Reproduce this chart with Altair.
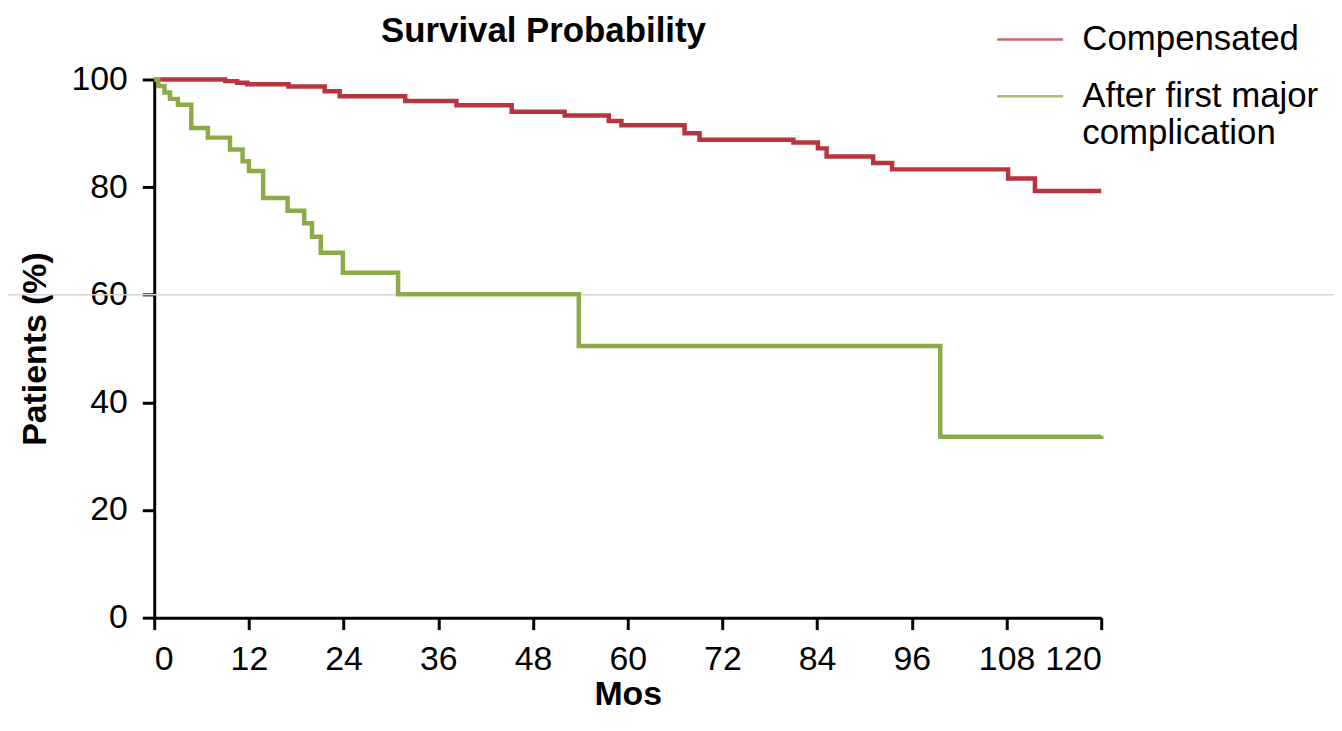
import altair as alt
import pandas as pd

# ---- data ----
comp_label = "Compensated"
comp_months = [0, 9.0, 10.5, 11.8, 17.0, 21.6, 23.5, 31.8, 38.3, 45.3, 52.0, 57.6, 59.2,
               67.2, 69.1, 81.0, 84.1, 85.2, 91.1, 93.5, 108.2, 111.6, 120]
comp_pct = [100, 99.7, 99.4, 99.1, 98.7, 97.8, 96.9, 96.0, 95.2, 94.0, 93.3, 92.3, 91.5,
            90.0, 88.8, 88.3, 87.2, 85.7, 84.5, 83.3, 81.6, 79.3, 79.3]

compl_label = "After first major complication"
compl_months = [0, 0.5, 1.3, 2.0, 3.0, 4.7, 6.8, 9.6, 11.2, 12.0, 13.8, 16.9, 19.0, 20.0,
                21.1, 23.9, 30.9, 53.8, 99.6, 120]
compl_pct = [100, 98.8, 97.6, 96.4, 95.3, 91.0, 89.2, 87.0, 84.8, 83.0, 78.0, 75.6, 73.3, 70.8,
             67.8, 64.1, 60.1, 50.5, 33.6, 33.8]

x_ticks = [0, 12, 24, 36, 48, 60, 72, 84, 96, 108, 120]
y_ticks = [0, 20, 40, 60, 80, 100]
ref_line = 60

series = [comp_label, compl_label]
colors = ["#b8343f", "#8cab48"]

df = pd.concat([
    pd.DataFrame({"month": comp_months, "pct": comp_pct, "group": comp_label}),
    pd.DataFrame({"month": compl_months, "pct": compl_pct, "group": compl_label}),
], ignore_index=True)

FONT = "Liberation Sans"

rule = alt.Chart(df).transform_filter("datum.month == 0 && datum.group == 'Compensated'").mark_rule(
    color="#d4d4d4", strokeWidth=1.5
).encode(
    y=alt.datum(ref_line),
    x=alt.value(-160),
    x2=alt.value(1200),
)

lines = alt.Chart(df).mark_line(interpolate="step-after", strokeWidth=4.5).encode(
    x=alt.X("month:Q", scale=alt.Scale(domain=[0, 120], nice=False),
            axis=alt.Axis(values=x_ticks, title="Mos", labelPadding=13, titlePadding=1)),
    y=alt.Y("pct:Q", scale=alt.Scale(domain=[0, 100], nice=False),
            axis=alt.Axis(values=y_ticks, title="Patients (%)", labelPadding=15, titlePadding=19)),
    color=alt.Color("group:N", scale=alt.Scale(domain=series, range=colors),
                    sort=series,
                    legend=alt.Legend(
                        title=None, orient="none", legendX=846, legendY=-92,
                        symbolType="M-1,0.52H1", symbolSize=4400, symbolStrokeWidth=2.5,
                        symbolOpacity=0.75,
                        labelFont=FONT, labelFontSize=35, labelColor="black",
                        labelLimit=0, labelOffset=18, labelBaseline="top",
                        gridAlign="none", rowPadding=-13, padding=0,
                        labelExpr="datum.label == 'After first major complication' ? ['After first major', 'complication'] : datum.label",
                    )),
)

chart = alt.layer(rule, lines).properties(
    width=952, height=541,
    padding={"left": 147, "top": 70, "right": 234, "bottom": 100},
    autosize=alt.AutoSizeParams(type="none"),
    title=alt.TitleParams("Survival Probability", anchor="start", frame="group", dx=228,
                          offset=-61, fontSize=35, font=FONT, fontWeight="bold", color="black"),
).configure_view(stroke=None).configure_axis(
    grid=False, domainColor="black", domainWidth=3, tickColor="black", tickWidth=3,
    tickSize=12, labelFont=FONT, labelFontSize=34, labelColor="black",
    titleFont=FONT, titleFontSize=34, titleFontWeight="bold", titleColor="black",
)

chart.save("out.html", embed_options={"renderer": "svg", "actions": False})
